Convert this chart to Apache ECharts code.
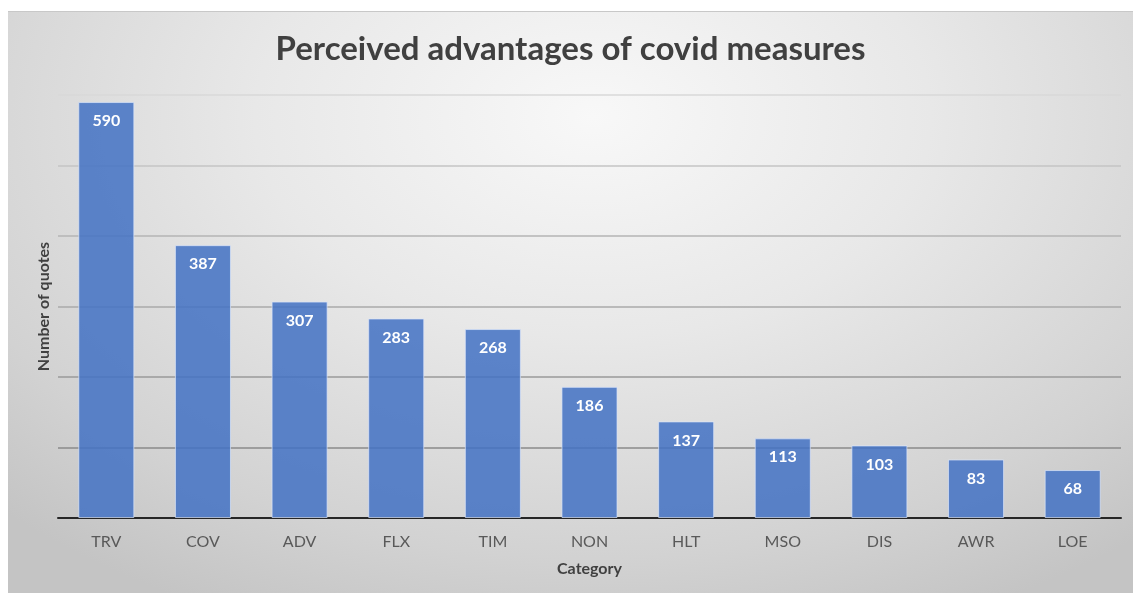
<!DOCTYPE html>
<html>
<head>
<meta charset="utf-8">
<script src="https://cdn.jsdelivr.net/npm/echarts@6/dist/echarts.min.js"></script>
<style>
  body { margin: 0; background: #fff; }
  #wrap { position: relative; width: 1133px; height: 593px; background: #fff; }
  #main {
    position: absolute; left: 8px; top: 11px; width: 1125px; height: 582px;
    border-top: 1px solid #c8c8c8; box-sizing: border-box;
    background: radial-gradient(ellipse 75% 95% at 52% 18%, #f8f8f8 0%, #e8e8e8 40%, #d2d2d2 80%, #c4c4c4 100%);
  }
</style>
</head>
<body>
<div id="wrap"><div id="main"></div></div>
<script>
// categories + counts
const categories = ['TRV', 'COV', 'ADV', 'FLX', 'TIM', 'NON', 'HLT', 'MSO', 'DIS', 'AWR', 'LOE'];
const quotes = [590, 387, 307, 283, 268, 186, 137, 113, 103, 83, 68];

const chart = echarts.init(document.getElementById('main'));

const option = {
  backgroundColor: 'transparent',
  textStyle: { fontFamily: 'Lato' },
  title: {
    text: 'Perceived advantages of covid measures',
    left: 'center',
    top: 16,
    textStyle: { fontFamily: 'Lato', fontSize: 33, fontWeight: 'bold', color: '#404040' }
  },
  grid: { left: 50, right: 12, top: 83, bottom: 75 },
  xAxis: {
    type: 'category',
    data: categories,
    name: 'Category',
    nameLocation: 'middle',
    nameGap: 43,
    nameTextStyle: { fontSize: 16, fontWeight: 'bold', color: '#404040' },
    axisLine: { lineStyle: { color: '#262626', width: 2 } },
    axisTick: { show: false },
    axisLabel: { fontSize: 16, color: '#595959', margin: 16 }
  },
  yAxis: {
    type: 'value',
    min: 0,
    max: 600,
    interval: 100,
    name: 'Number of quotes',
    nameLocation: 'middle',
    nameGap: 6,
    nameTextStyle: { fontSize: 16, fontWeight: 'bold', color: '#404040' },
    axisLabel: { show: false },
    axisLine: { show: false },
    axisTick: { show: false },
    splitLine: {
      lineStyle: {
        width: 1.5,
        color: ['#262626', '#8a8a8a', '#9a9a9a', '#aaaaaa', '#b4b4b4', '#c4c4c4', '#d8d8d8']
      }
    }
  },
  series: [{
    type: 'bar',
    data: quotes,
    barCategoryGap: '42%',
    itemStyle: {
      color: 'rgba(68,114,196,0.86)',
      borderColor: 'rgba(220,230,250,0.7)',
      borderWidth: 1
    },
    label: {
      show: true,
      position: 'insideTop',
      distance: 11,
      color: '#fff',
      fontSize: 16,
      fontWeight: 'bold'
    }
  }]
};

chart.setOption(option);
</script>
</body>
</html>
